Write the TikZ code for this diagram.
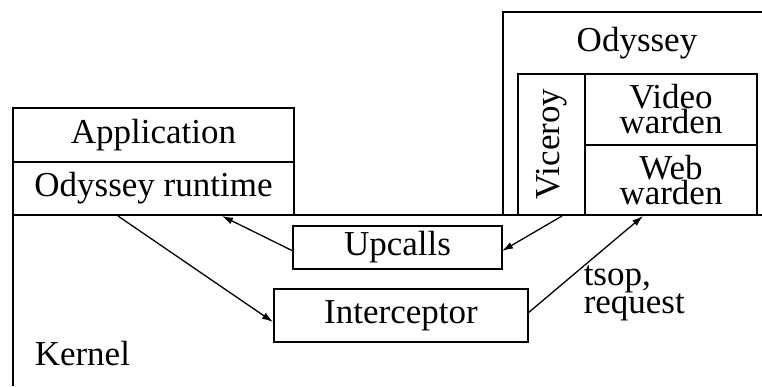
\documentclass[tikz,border=0pt]{standalone}
\usepackage{fontspec}
\setmainfont{Liberation Serif}
\usetikzlibrary{arrows.meta}
\begin{document}
\begin{tikzpicture}[x=1pt,y=-1pt,
  line width=1.5pt,
  every node/.style={font=\fontsize{35}{25}\selectfont, inner sep=0pt},
  box/.style={draw, minimum width=#1},
  lbl/.style={align=center},
  arr/.style={-{Latex[length=11pt,width=7pt]}, line width=1.3pt}]
\useasboundingbox (0,0) rectangle (762,386);
% Kernel frame
\draw (13,386) -- (13,215) -- (762,215);
% Odyssey outer frame (open at right)
\draw (503,215) -- (503,12) -- (762,12);
% boxes
\node[box=281pt, minimum height=54pt] (app) at (153.5,135) {Application};
\node[box=281pt, minimum height=53pt] (rt) at (153.5,188.5) {Odyssey runtime};
\node[box=67pt, minimum height=141pt] (vic) at (551.5,144.5) {};
\node[rotate=90] (victxt) at (552,144) {Viceroy};
\node[box=172pt, minimum height=71pt, lbl] (vid) at (671,109.5) {Video\\warden};
\node[box=172pt, minimum height=70pt, lbl] (web) at (671,180) {Web\\warden};
\node[box=209pt, minimum height=43pt] (up) at (397.5,247.5) {Upcalls};
\node[box=254pt, minimum height=53pt] (int) at (401,315.5) {Interceptor};
% labels
\node (ody) at (637,43) {Odyssey};
\node[anchor=base west] (ker) at (34,365) {Kernel};
\node[anchor=north west, align=left] (ts) at (583,265) {tsop,\\request};
% connector end points
\coordinate (a1s) at (118,216);
\coordinate (a1e) at (273,322);
\coordinate (a2s) at (293,251);
\coordinate (a2e) at (222,216);
\coordinate (a3s) at (562,216);
\coordinate (a3e) at (502,251);
\coordinate (a4s) at (528,313);
\coordinate (a4e) at (643,216);
\draw[arr] (a1s) -- (a1e);
\draw[arr] (a2s) -- (a2e);
\draw[arr] (a3s) -- (a3e);
\draw[arr] (a4s) -- (a4e);
\end{tikzpicture}
\end{document}
